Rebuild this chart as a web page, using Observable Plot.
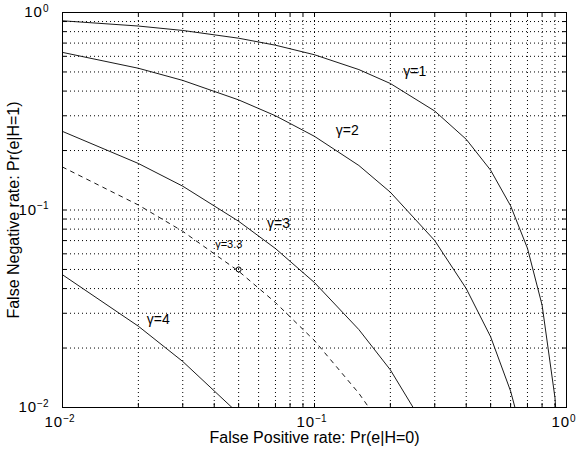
<!DOCTYPE html>
<html><head><meta charset="utf-8">
<script src="https://cdn.jsdelivr.net/npm/d3@7"></script>
<script src="https://cdn.jsdelivr.net/npm/@observablehq/plot@0.6"></script>
<style>
body{margin:0;background:#fff}
svg{font-family:"Liberation Sans",Arial,Helvetica,sans-serif}
</style>
</head><body><div id="chart"></div>
<script>
// False positive rates at which each curve was read
const fpr = [0.01,0.02,0.03,0.05,0.07,0.1,0.15,0.2,0.3,0.4,0.5,0.6,0.7,0.8,0.9,0.95];
// False negative rates
const fnrG1  = [0.908,0.854,0.811,0.741,0.683,0.611,0.514,0.437,0.317,0.228,0.159,0.105,0.064,0.033,0.0112,0.0041];
const fnrG2  = [0.628,0.522,0.453,0.361,0.300,0.236,0.168,0.123,0.070,0.040,0.0228,0.0121,0.0058];
const fnrG3  = [0.250,0.172,0.132,0.0877,0.0638,0.0429,0.0248,0.0155,0.0066];
const fnrG33 = [0.165,0.106,0.078,0.049,0.034,0.0218,0.0118,0.0070];
const fnrG4  = [0.047,0.0258,0.0171,0.0093];
const seriesNames = ["γ=1","γ=2","γ=3","γ=3.3","γ=4"];
const seriesValues = [fnrG1,fnrG2,fnrG3,fnrG33,fnrG4];
// operating point marked on the γ=3.3 curve
const markFpr = [0.05];
const markFnr = [0.05];
// curve label anchors (data coordinates)
const labelFpr = [0.25,0.135,0.072,0.0457,0.024];
const labelFnr = [0.50,0.253,0.0855,0.067,0.028];
// ticks
const majorTicks = [0.01,0.1,1];
const majorExp = ["−2","−1","0"];
const gridTicks = [0.01,0.02,0.03,0.04,0.05,0.06,0.07,0.08,0.09,0.1,0.2,0.3,0.4,0.5,0.6,0.7,0.8,0.9,1];
const xTitle = "False Positive rate: Pr(e|H=0)";
const yTitle = "False Negative rate: Pr(e|H=1)";

const rows = seriesNames.flatMap((name,k) => seriesValues[k].map((v,i) => ({name, fpr: fpr[i], fnr: v})));
const solid = rows.filter(d => d.name !== "γ=3.3");
const dashed = rows.filter(d => d.name === "γ=3.3");
const labels = seriesNames.map((name,i) => ({name, fpr: labelFpr[i], fnr: labelFnr[i]}));
const fmt = d => "10^" + majorExp[majorTicks.indexOf(d)];

const W = 580, H = 459, mL = 62, mR = 14, mT = 12, mB = 52;
const ph = H - mT - mB, pw = W - mL - mR, tk = 4;

const chart = Plot.plot({
  width: W, height: H,
  marginLeft: mL, marginRight: mR, marginTop: mT, marginBottom: mB,
  x: {type: "log", domain: [0.01, 1]},
  y: {type: "log", domain: [0.01, 1]},
  style: {fontFamily: "Liberation Sans, Arial, sans-serif", fontSize: "14px", color: "black", background: "white"},
  marks: [
    Plot.ruleX(gridTicks, {x: d => d, stroke: "black", strokeWidth: 1, strokeDasharray: "1,3"}),
    Plot.ruleY(gridTicks, {y: d => d, stroke: "black", strokeWidth: 1, strokeDasharray: "1,3"}),
    Plot.tickX(gridTicks, {x: d => d, insetTop: ph - tk, stroke: "black"}),
    Plot.tickX(gridTicks, {x: d => d, insetBottom: ph - tk, stroke: "black"}),
    Plot.tickY(gridTicks, {y: d => d, insetRight: pw - tk, stroke: "black"}),
    Plot.tickY(gridTicks, {y: d => d, insetLeft: pw - tk, stroke: "black"}),
    Plot.axisX({ticks: majorTicks, tickFormat: fmt, tickSize: 0, tickPadding: 9, label: null, fontSize: 15}),
    Plot.axisY({ticks: majorTicks, tickFormat: fmt, tickSize: 0, tickPadding: 14, label: null, fontSize: 15}),
    Plot.line(solid, {x: "fpr", y: "fnr", z: "name", stroke: "black", strokeWidth: 0.9, clip: true}),
    Plot.line(dashed, {x: "fpr", y: "fnr", stroke: "black", strokeWidth: 0.9, strokeDasharray: "4,5", clip: true}),
    Plot.dot(markFpr.map((x,i) => ({x, y: markFnr[i]})), {x: "x", y: "y", r: 2.5, stroke: "black", fill: "none", strokeWidth: 1}),
    Plot.text(labels.filter(d => d.name !== "γ=3.3"), {x: "fpr", y: "fnr", text: "name", fontSize: 14, fill: "black"}),
    Plot.text(labels.filter(d => d.name === "γ=3.3"), {x: "fpr", y: "fnr", text: "name", fontSize: 11, fill: "black"}),
    Plot.text([xTitle], {text: d => d, frameAnchor: "bottom", textAnchor: "middle", dy: 35, fontSize: 16, fill: "black"}),
    Plot.text([yTitle], {text: d => d, frameAnchor: "left", textAnchor: "middle", rotate: -90, dx: -49, fontSize: 16, fill: "black"}),
    Plot.frame({stroke: "black", strokeWidth: 1})
  ]
});
document.getElementById("chart").appendChild(chart);

const svg = d3.select(chart);
// turn "10^e" tick labels into a base with a raised exponent
svg.selectAll("text").each(function() {
  const t = d3.select(this);
  const s = this.textContent;
  if (!s.startsWith("10^")) return;
  const exp = s.slice(3);
  t.text("10").attr("letter-spacing", "1px");
  t.append("tspan").attr("dy", "-0.55em").attr("font-size", "10px").attr("letter-spacing", "0px").text(exp);
});
svg.selectAll('g[aria-label="x-axis tick label"] text').attr("dx", -3);
</script>
</body></html>
